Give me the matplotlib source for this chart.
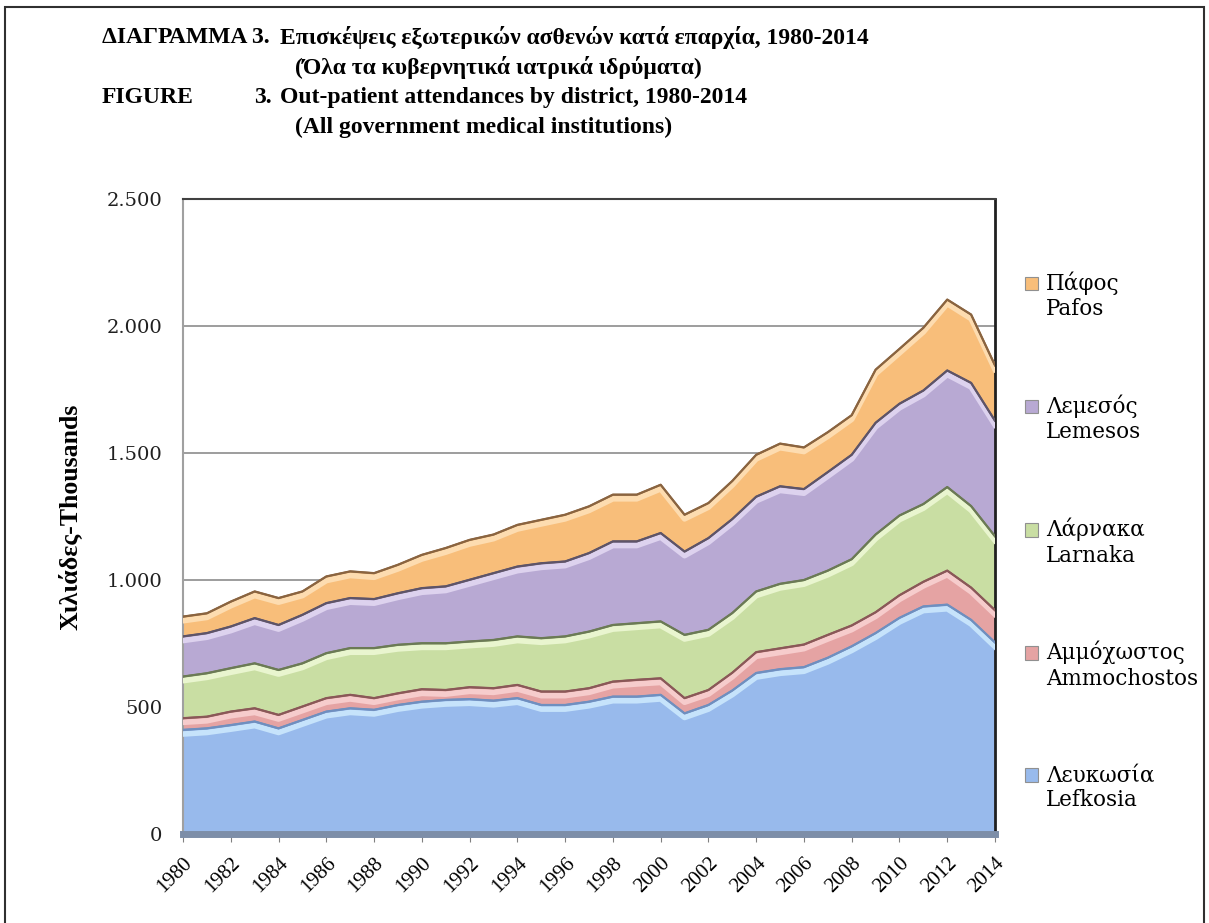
import numpy as np
import matplotlib.pyplot as plt
import matplotlib.patheffects as pe
from matplotlib.patches import Patch, Rectangle
from matplotlib.legend_handler import HandlerPatch

# datos (miles de visitas)
years = np.arange(1980, 2015)
lefkosia = [410, 416, 429, 443, 416, 449, 482, 495, 489, 508, 521, 528, 531, 525, 535,
            508, 508, 521, 541, 541, 548, 475, 508, 565, 634, 649, 657, 694, 739, 791,
            851, 896, 903, 843, 754]
ammochostos = [46, 46, 53, 52, 53, 53, 53, 53, 46, 46, 49, 39, 47, 49, 52,
               53, 53, 53, 59, 66, 65, 60, 59, 70, 82, 82, 89, 90, 82, 82,
               89, 97, 134, 127, 127]
larnaka = [164, 171, 171, 177, 177, 170, 177, 184, 197, 191, 181, 184, 180, 190, 191,
           210, 217, 223, 223, 223, 224, 249, 237, 235, 239, 254, 254, 253, 261, 306,
           314, 306, 329, 321, 291]
lemesos = [158, 158, 164, 178, 177, 191, 197, 197, 193, 203, 217, 224, 243, 263, 275,
           295, 295, 309, 329, 322, 348, 328, 361, 370, 373, 384, 358, 388, 411, 440,
           440, 447, 459, 485, 455]
pafos = [78, 78, 98, 105, 106, 92, 105, 105, 102, 112, 131, 151, 157, 152, 164,
         171, 184, 184, 184, 184, 190, 145, 138, 150, 165, 168, 164, 157, 156, 209,
         216, 247, 279, 269, 218]

series = [lefkosia, ammochostos, larnaka, lemesos, pafos]
labels = ['Λευκωσία\nLefkosia', 'Αμμόχωστος\nAmmochostos', 'Λάρνακα\nLarnaka',
          'Λεμεσός\nLemesos', 'Πάφος\nPafos']
colores = ['#98BAEC', '#E5A3A3', '#C9DEA3', '#B8A9D3', '#F8BE7A']
bordes = ['#6f8fbf', '#8a5858', '#6b7a55', '#5e5468', '#8a6440']
brillos = ['#c6e3fb', '#f6cccc', '#e9f5cf', '#ddd2ee', '#fddcb0']

ytick_vals = [0, 500, 1000, 1500, 2000, 2500]
ytick_labels = ['0', '500', '1.000', '1.500', '2.000', '2.500']
xtick_vals = np.arange(1980, 2015, 2)

serif = 'Liberation Serif'


class CuadroArriba(HandlerPatch):
    # cuadrito alineado con la primera linea del texto
    def create_artists(self, legend, orig_handle, xdescent, ydescent,
                       width, height, fontsize, trans):
        p = Rectangle((-xdescent, -ydescent + 0.62 * fontsize), width, height,
                      facecolor=orig_handle.get_facecolor(),
                      edgecolor=orig_handle.get_edgecolor(), lw=0.8, transform=trans)
        return [p]


fig = plt.figure(figsize=(12.09, 9.23), dpi=100)
ax = fig.add_axes([0.1514, 0.0964, 0.6716, 0.688])

base = np.zeros(len(years))
for vals, c, b, h in zip(series, colores, bordes, brillos):
    top = base + np.array(vals)
    ax.fill_between(years, base, top, color=c, lw=0, zorder=2)
    ax.plot(years, top, color=b, lw=1.3, zorder=3,
            path_effects=[pe.Stroke(linewidth=4, foreground=h, offset=(0, -3)),
                          pe.Stroke(linewidth=1.6, foreground=b), pe.Normal()])
    base = top

# piso del grafico
ax.axhline(0, color='#7d8ea8', lw=5, zorder=4, clip_on=False)

ax.set_xlim(1980, 2014)
ax.set_ylim(0, 2500)
ax.set_yticks(ytick_vals)
ax.set_yticklabels(ytick_labels, fontsize=14, family='DejaVu Serif', color='#202020')
ax.set_xticks(xtick_vals)
ax.set_xticklabels([str(y) for y in xtick_vals], fontsize=15, family=serif,
                   rotation=45, ha='right', va='top', rotation_mode='anchor')
ax.tick_params(axis='y', length=0, pad=15)
ax.tick_params(axis='x', length=6, color='#808080', pad=8)
for v in ytick_vals[1:-1]:
    ax.axhline(v, color='#8c8c8c', lw=1.2, zorder=1)

ax.spines['top'].set_color('#404040')
ax.spines['top'].set_linewidth(1.5)
ax.spines['right'].set_color('#202020')
ax.spines['right'].set_linewidth(2)
ax.spines['left'].set_color('#a0a0a0')
ax.spines['left'].set_linewidth(1.5)
ax.spines['bottom'].set_visible(False)

ax.set_ylabel('Χιλιάδες-Thousands', fontsize=18.5, fontweight='bold', family=serif)
ax.yaxis.set_label_coords(-0.125, 0.5)

handles = [Patch(facecolor=c, edgecolor='#909090') for c in colores]
leg = fig.legend(handles[::-1], labels[::-1], loc='upper left',
                 bbox_to_anchor=(0.832, 0.727), frameon=False,
                 prop={'family': 'DejaVu Serif', 'size': 15.5},
                 handlelength=0.6, handleheight=0.6, handletextpad=0.35,
                 labelspacing=3.45, handler_map={Patch: CuadroArriba()})

# titulos
tx = dict(fontsize=17, fontweight='bold', family=serif, va='center')
fig.text(0.084, 0.959, 'ΔΙΑΓΡΑΜΜΑ 3.', **tx)
fig.text(0.232, 0.959, 'Επισκέψεις εξωτερικών ασθενών κατά επαρχία, 1980-2014', **tx)
fig.text(0.244, 0.927, '(Όλα τα κυβερνητικά ιατρικά ιδρύματα)', **tx)
fig.text(0.084, 0.894, 'FIGURE', **tx)
fig.text(0.210, 0.894, '3.', **tx)
fig.text(0.232, 0.894, 'Out-patient attendances by district, 1980-2014', **tx)
fig.text(0.244, 0.862, '(All government medical institutions)', **tx)

fig.patches.append(Rectangle((0.004, -0.01), 0.992, 1.002, transform=fig.transFigure,
                             fill=False, edgecolor='#303030', lw=1.5))

fig.savefig('out.png', dpi=100)
